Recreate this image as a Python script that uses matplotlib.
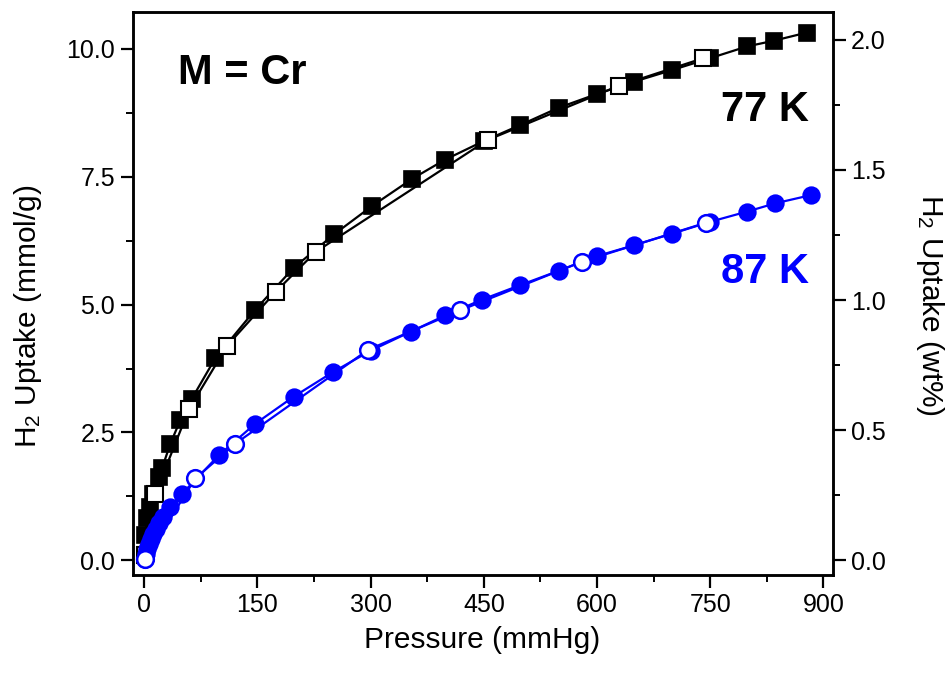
import matplotlib
matplotlib.use("Agg")
import matplotlib.pyplot as plt
from matplotlib.ticker import MultipleLocator

plt.rcParams["font.family"] = "Liberation Sans"
plt.rcParams["mathtext.fontset"] = "custom"
plt.rcParams["mathtext.rm"] = "Liberation Sans"
plt.rcParams["mathtext.it"] = "Liberation Sans:italic"
plt.rcParams["xtick.direction"] = "out"
plt.rcParams["ytick.direction"] = "out"

# 77 K, adsorption (filled) and desorption (open)
p77_ads = [0.5, 1.5, 3.5, 7, 12, 19, 23.5, 34.5, 47.7, 63, 94, 147, 198, 252, 302,
           355, 398, 450, 498, 549, 600, 649, 700, 750, 799, 834, 878]
u77_ads = [0.1, 0.5, 0.82, 1.05, 1.3, 1.63, 1.8, 2.28, 2.74, 3.16, 3.95, 4.9, 5.72,
           6.38, 6.93, 7.46, 7.83, 8.2, 8.51, 8.85, 9.12, 9.36, 9.59, 9.82, 10.05,
           10.16, 10.32]
p77_des = [741, 629, 455, 227, 174, 110, 59, 14.6, 1]
u77_des = [9.82, 9.28, 8.22, 6.03, 5.25, 4.2, 2.95, 1.3, 0.1]

# 87 K
p87_ads = [0.5, 2, 4, 6, 9, 12, 16, 20, 25, 34.5, 50, 98.5, 147, 198, 250, 300,
           353, 399, 448, 498, 549, 600, 649, 700, 750, 799, 836, 883]
u87_ads = [0.02, 0.12, 0.22, 0.32, 0.42, 0.52, 0.62, 0.72, 0.84, 1.04, 1.3, 2.05,
           2.67, 3.2, 3.68, 4.1, 4.47, 4.79, 5.1, 5.38, 5.66, 5.95, 6.16, 6.39,
           6.62, 6.82, 6.98, 7.14]
p87_des = [744, 580, 419, 297, 120.6, 67.6, 0.5]
u87_des = [6.6, 5.84, 4.89, 4.12, 2.28, 1.6, 0.02]

wt_per_mmol = 0.1965

fig = plt.figure(figsize=(9.5, 6.75), dpi=100)
ax = fig.add_axes([0.14, 0.148, 0.737, 0.834])

ax.plot(p77_ads, u77_ads, color='black', lw=1.6, marker='s', ms=11,
        mfc='black', mec='black', mew=1.2)
ax.plot(p77_des, u77_des, color='black', lw=1.6, marker='s', ms=11,
        mfc='white', mec='black', mew=1.5)
ax.plot(p87_ads, u87_ads, color='#0000ff', lw=1.6, marker='o', ms=12,
        mfc='#0000ff', mec='#0000ff', mew=1.2)
ax.plot(p87_des, u87_des, color='#0000ff', lw=1.6, marker='o', ms=12,
        mfc='white', mec='#0000ff', mew=1.8)

ax.set_xlim(-15, 913)
ax.set_ylim(-0.29, 10.72)
ax.xaxis.set_major_locator(MultipleLocator(150))
ax.xaxis.set_minor_locator(MultipleLocator(75))
ax.yaxis.set_major_locator(MultipleLocator(2.5))
ax.yaxis.set_minor_locator(MultipleLocator(1.25))
ax.yaxis.set_major_formatter(lambda v, pos: f"{v:.1f}")

ax.set_xlabel('Pressure (mmHg)', fontsize=21.5, va='center')
ax.xaxis.set_label_coords(0.499, -0.115)
ax.set_ylabel(r'H$_2$ Uptake (mmol/g)', fontsize=21.5, va='center')
ax.yaxis.set_label_coords(-0.15, 0.46)

ax2 = ax.twinx()
ax2.set_ylim(-0.29 * wt_per_mmol, 10.72 * wt_per_mmol)
ax2.yaxis.set_major_locator(MultipleLocator(0.5))
ax2.yaxis.set_minor_locator(MultipleLocator(0.25))
ax2.yaxis.set_major_formatter(lambda v, pos: f"{v:.1f}")
ax2.set_ylabel(r'H$_2$ Uptake (wt%)', fontsize=21.5, rotation=270, va='center')
ax2.yaxis.set_label_coords(1.139, 0.48)

for a in (ax, ax2):
    for s in a.spines.values():
        s.set_linewidth(1.8)
    a.tick_params(which='major', length=9, width=1.6, labelsize=18, pad=4)
    a.tick_params(which='minor', length=5, width=1.4)

ax.text(0.064, 0.892, 'M = Cr', transform=ax.transAxes, fontsize=30,
        fontweight='bold', ha='left', va='center')
ax.text(0.965, 0.826, '77 K', transform=ax.transAxes, fontsize=30,
        fontweight='bold', ha='right', va='center')
ax.text(0.965, 0.538, '87 K', transform=ax.transAxes, fontsize=30,
        fontweight='bold', ha='right', va='center', color='#0000ff')

fig.savefig('out.png', dpi=100)
